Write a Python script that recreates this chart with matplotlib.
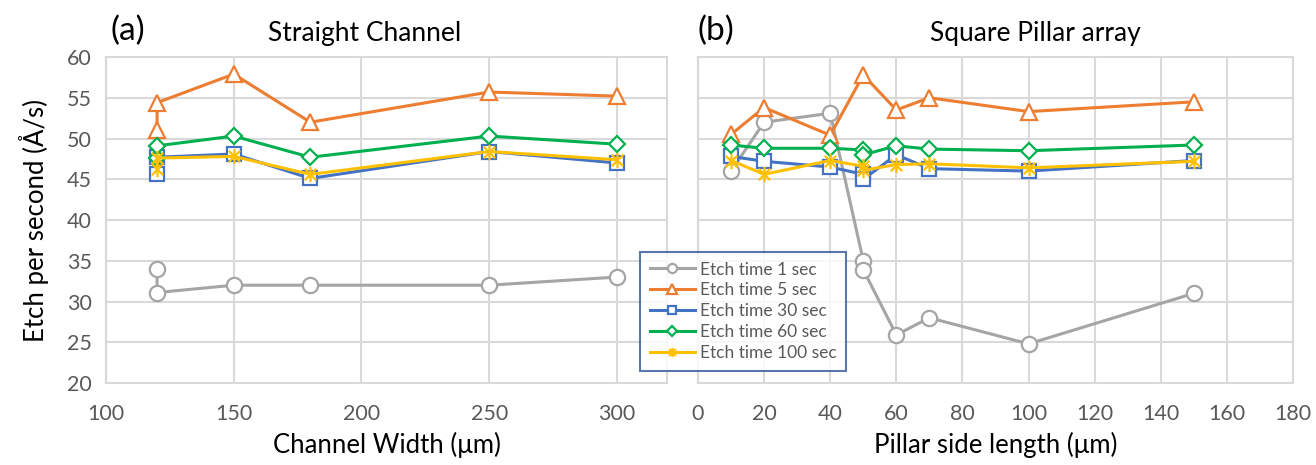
import matplotlib
matplotlib.use("Agg")
import matplotlib.pyplot as plt
from matplotlib.path import Path
import numpy as np

plt.rcParams['font.family'] = ['Lato', 'DejaVu Sans']

# ---- data: (a) Straight Channel ----
ch_x = [120, 120, 150, 180, 250, 300]
ch_1s = [34.0, 31.1, 32.0, 32.0, 32.0, 33.0]
ch_5s = [51.0, 54.4, 57.9, 52.0, 55.7, 55.2]
ch_30s = [45.7, 47.7, 48.1, 45.1, 48.4, 47.0]
ch_60s = [47.6, 49.1, 50.3, 47.7, 50.3, 49.3]
ch_100s = [46.2, 47.6, 47.8, 45.6, 48.4, 47.4]

# ---- data: (b) Square Pillar array ----
pl_x_1s = [10, 20, 40, 50, 50, 60, 70, 100, 150]
pl_1s = [46.0, 52.0, 53.1, 35.0, 33.9, 25.9, 28.0, 24.8, 31.0]
pl_x_5s = [10, 20, 40, 50, 60, 70, 100, 150]
pl_5s = [50.5, 53.8, 50.4, 57.8, 53.5, 55.0, 53.3, 54.5]
pl_x_30s = [10, 20, 40, 50, 50, 60, 70, 100, 150]
pl_30s = [47.8, 47.2, 46.5, 45.6, 45.0, 48.0, 46.3, 46.0, 47.3]
pl_x_60s = [10, 20, 40, 50, 50, 60, 70, 100, 150]
pl_60s = [49.2, 48.8, 48.8, 48.6, 48.0, 49.1, 48.7, 48.5, 49.2]
pl_x_100s = [10, 20, 40, 50, 50, 60, 70, 100, 150]
pl_100s = [47.3, 45.6, 47.3, 46.6, 46.1, 46.8, 46.9, 46.4, 47.2]

labels = ["Etch time 1 sec", "Etch time 5 sec", "Etch time 30 sec",
          "Etch time 60 sec", "Etch time 100 sec"]
y_ticks = [20, 25, 30, 35, 40, 45, 50, 55, 60]
ch_ticks = [100, 150, 200, 250, 300]
pl_ticks = [0, 20, 40, 60, 80, 100, 120, 140, 160, 180]

colors = ['#A5A5A5', '#ED7D31', '#4472C4', '#00B050', '#FFC000']

star = Path([(0, -1), (0, 1), (-0.75, -0.75), (0.75, 0.75), (-0.75, 0.75), (0.75, -0.75)],
            [Path.MOVETO, Path.LINETO, Path.MOVETO, Path.LINETO, Path.MOVETO, Path.LINETO])
markers = ['o', '^', 's', 'D', star]
msizes = [11, 11.5, 9.5, 8.5, 11]

W, H = 1316, 465
fig = plt.figure(figsize=(W / 100, H / 100), dpi=100)
axL = fig.add_axes([106 / W, 1 - 383 / H, 561 / W, 326 / H])
axR = fig.add_axes([698 / W, 1 - 383 / H, 595 / W, 326 / H])

grid_c = '#D9D9D9'
tick_c = '#595959'


def style(ax, xt, xlim):
    ax.set_xlim(*xlim)
    ax.set_ylim(20, 60)
    ax.set_xticks(xt)
    ax.set_yticks(y_ticks)
    ax.grid(True, color=grid_c, lw=1.5)
    ax.set_axisbelow(True)
    for s in ax.spines.values():
        s.set_color(grid_c)
        s.set_linewidth(1.5)
    ax.tick_params(axis='x', length=0, labelsize=15.5, colors=tick_c, pad=15)
    ax.tick_params(axis='y', length=0, labelsize=15.5, colors=tick_c, pad=10)


left_series = [ch_1s, ch_5s, ch_30s, ch_60s, ch_100s]
for i, ys in enumerate(left_series):
    axL.plot(ch_x, ys, color=colors[i], lw=2.2, marker=markers[i], ms=msizes[i],
             mfc='white' if i < 4 else 'none', mec=colors[i], mew=1.6, label=labels[i])

right_x = [pl_x_1s, pl_x_5s, pl_x_30s, pl_x_60s, pl_x_100s]
right_series = [pl_1s, pl_5s, pl_30s, pl_60s, pl_100s]
for i, (xs, ys) in enumerate(zip(right_x, right_series)):
    axR.plot(xs, ys, color=colors[i], lw=2.2, marker=markers[i], ms=msizes[i],
             mfc='white' if i < 4 else 'none', mec=colors[i], mew=1.6)

style(axL, ch_ticks, (100, 319.6))
style(axR, pl_ticks, (0, 180))
axR.tick_params(labelleft=False)

axL.set_xlabel("Channel Width (μm)", fontsize=18.5, color='black', labelpad=6)
axR.set_xlabel("Pillar side length (μm)", fontsize=18.5, color='black', labelpad=6)
axL.set_ylabel("Etch per second (Å/s)", fontsize=18.5, color='black', labelpad=13)

fig.text(128 / W, 1 - 31 / H, "(a)", fontsize=24, ha='center', va='center')
fig.text(365 / W, 1 - 33 / H, "Straight Channel", fontsize=19, ha='center', va='center')
fig.text(716 / W, 1 - 31 / H, "(b)", fontsize=24, ha='center', va='center')
fig.text(1035 / W, 1 - 33 / H, "Square Pillar array", fontsize=19, ha='center', va='center')

handles, labs = axL.get_legend_handles_labels()
leg = fig.legend(handles, labs, loc='upper left',
                 bbox_to_anchor=(640 / W, 1 - 252 / H), fontsize=12.5,
                 frameon=True, fancybox=False, markerscale=0.6,
                 handlelength=2.6, handletextpad=0.3, labelspacing=0.28,
                 borderpad=0.55, borderaxespad=0, labelcolor=tick_c)
leg.get_frame().set_edgecolor('#2F5597')
leg.get_frame().set_linewidth(1.5)
leg.set_zorder(10)

fig.savefig("out.png", dpi=100)
